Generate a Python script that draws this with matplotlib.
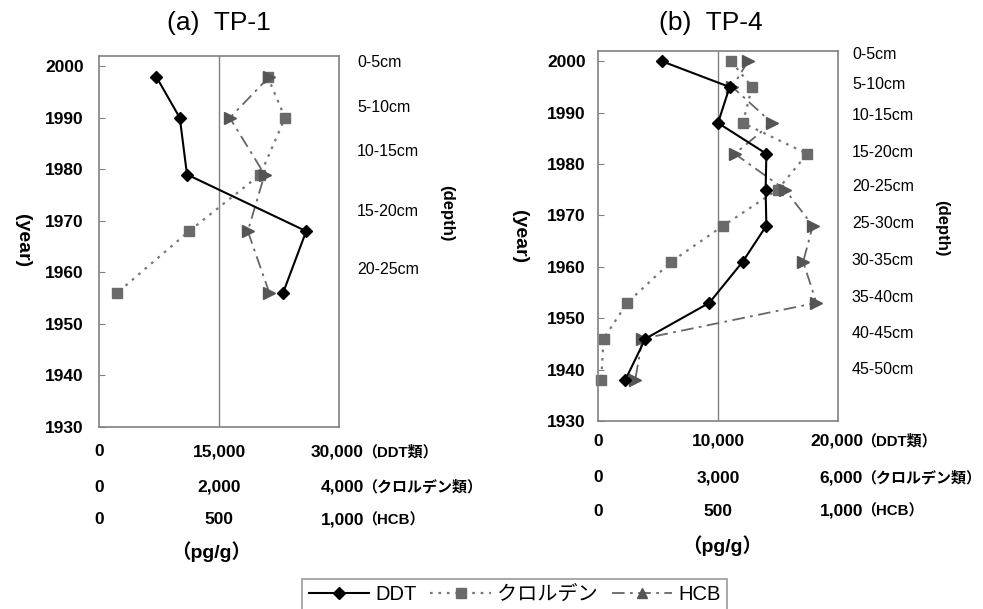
import matplotlib.pyplot as plt
import matplotlib.transforms as mtransforms
from matplotlib.lines import Line2D

# TP-1 data (pg/g)
years_tp1 = [1998, 1990, 1979, 1968, 1956]
ddt_tp1 = [7150, 10100, 11000, 25900, 23000]
chl_tp1 = [2810, 3100, 2690, 1500, 300]
hcb_tp1 = [710, 545, 690, 620, 710]
depth_tp1 = ["0-5cm", "5-10cm", "10-15cm", "15-20cm", "20-25cm"]
depth_pos_tp1 = [2000.8, 1992.0, 1983.5, 1971.8, 1960.5]

# TP-4 data (pg/g)
years_tp4 = [2000, 1995, 1988, 1982, 1975, 1968, 1961, 1953, 1946, 1938]
ddt_tp4 = [5330, 10970, 10000, 14030, 13970, 14030, 12060, 9280, 3940, 2280]
chl_tp4 = [3330, 3850, 3620, 5230, 4490, 3130, 1830, 730, 140, 80]
hcb_tp4 = [625, 560, 725, 570, 780, 895, 855, 910, 185, 155]
depth_tp4 = ["0-5cm", "5-10cm", "10-15cm", "15-20cm", "20-25cm",
             "25-30cm", "30-35cm", "35-40cm", "40-45cm", "45-50cm"]
depth_pos_tp4 = [2001.3, 1995.5, 1989.5, 1982.3, 1975.7,
                 1968.5, 1961.3, 1954.1, 1947.1, 1940.0]

year_ticks = [1930, 1940, 1950, 1960, 1970, 1980, 1990, 2000]
units = ["（DDT類）", "（クロルデン類）", "（HCB）"]

FONTS = ["Liberation Sans", "Noto Sans CJK JP"]
plt.rcParams["font.family"] = FONTS

W, H = 983, 609
fig = plt.figure(figsize=(W / 100, H / 100), dpi=100)

GRAY = "#808080"


def fy(px):
    return 1 - px / H


def panel(left, top, bottom, title, title_x, years, ddt, chl, hcb, maxes,
          depth, depth_pos, depth_x, rows, pgg, year_x, depth_lab, ypad):
    rect = [left / W, fy(bottom), 240 / W, (bottom - top) / H]
    ax = fig.add_axes(rect)
    ax_hcb = ax.twiny()
    ax_ddt = ax.twiny()
    axes = [ax_ddt, ax, ax_hcb]

    ax.set_ylim(1930, 2002)
    ax.set_yticks(year_ticks)
    ax.set_yticklabels([str(y) for y in year_ticks], fontweight="bold", fontsize=12.5)
    ax.tick_params(axis="y", direction="in", length=4, pad=ypad, color=GRAY)
    ax.tick_params(axis="x", bottom=False, labelbottom=False)
    for s in ax.spines.values():
        s.set_color(GRAY)
        s.set_linewidth(1.2)
    for a, m in zip(axes, maxes):
        a.set_xlim(0, m)
    for a in (ax_hcb, ax_ddt):
        a.tick_params(axis="x", top=False, labeltop=False)
        for s in a.spines.values():
            s.set_visible(False)

    ax.axvline(maxes[1] / 2, color=GRAY, lw=1)

    ax.plot(chl, years, color="#777777", ls=(0, (1.2, 2.6)), lw=1.6,
            marker="s", ms=7.5, mfc="#6a6a6a", mec="#6a6a6a", clip_on=False)
    ax_hcb.plot(hcb, years, color="#666666", ls=(0, (7, 3, 1.5, 3)), lw=1.3,
                marker=">", ms=8, mfc="#555555", mec="#555555", clip_on=False)
    ax_ddt.plot(ddt, years, color="black", ls="-", lw=1.5,
                marker="D", ms=6, mfc="black", mec="black", clip_on=False)

    fig.text(title_x / W, fy(23), title, fontsize=19, ha="center", va="center")

    # concentration scales below the panel
    for a, m, unit, ry in zip(axes, maxes, units, rows):
        tr = mtransforms.blended_transform_factory(a.transData, fig.transFigure)
        for v in (0, m // 2):
            a.text(v, fy(ry), f"{v:,}", transform=tr, ha="center", va="center",
                   fontsize=12.5, fontweight="bold")
        a.annotate(f"{m:,}", xy=(m, fy(ry)), xycoords=tr, xytext=(18, 0),
                   textcoords="offset points", ha="right", va="center",
                   fontsize=12.5, fontweight="bold")
        a.annotate(unit, xy=(m, fy(ry)), xycoords=tr, xytext=(16.5, 0),
                   textcoords="offset points", ha="left", va="center",
                   fontsize=10.8, fontweight="bold")
    tr = mtransforms.blended_transform_factory(ax.transAxes, fig.transFigure)
    ax.text(pgg[0], fy(pgg[1]), "（pg/g）", transform=tr, ha="center", va="center",
            fontsize=14, fontweight="bold")

    tr = mtransforms.blended_transform_factory(ax.transAxes, ax.transData)
    for lab, p in zip(depth, depth_pos):
        ax.text(depth_x, p, lab, transform=tr, ha="left", va="center", fontsize=11.5)

    fig.text(year_x[0] / W, fy(year_x[1]), "(year)", rotation=270, fontsize=14,
             fontweight="bold", ha="center", va="center")
    fig.text(depth_lab[0] / W, fy(depth_lab[1]), "(depth)", rotation=270, fontsize=12,
             fontweight="bold", ha="center", va="center")
    return ax


panel(99, 56, 427, "(a)  TP-1", 219, years_tp1, ddt_tp1, chl_tp1, hcb_tp1,
      [30000, 4000, 1000], depth_tp1, depth_pos_tp1, 1.075,
      [452, 487, 520], (0.467, 552), (22, 241), (447, 213), 11)
panel(598, 51, 421, "(b)  TP-4", 711, years_tp4, ddt_tp4, chl_tp4, hcb_tp4,
      [20000, 6000, 1000], depth_tp4, depth_pos_tp4, 1.058,
      [441, 478, 511], (0.517, 546), (520, 237), (942, 228), 9)

handles = [
    Line2D([], [], color="black", lw=1.5, marker="D", ms=6),
    Line2D([], [], color="#777777", ls=(0, (1.2, 2.6)), lw=1.6, marker="s", ms=7.5,
           mfc="#6a6a6a", mec="#6a6a6a"),
    Line2D([], [], color="#666666", ls=(0, (7, 3, 1.5, 3)), lw=1.3, marker="^", ms=7,
           mfc="#555555", mec="#555555"),
]
leg = fig.legend(handles, ["DDT", "クロルデン", "HCB"], loc="upper center",
                 bbox_to_anchor=(514.5 / W, fy(579)), ncol=3, fontsize=14.5,
                 frameon=True, fancybox=False, edgecolor=GRAY, handlelength=3.0,
                 handletextpad=0.3, columnspacing=0.7, borderpad=0.3,
                 borderaxespad=0)
leg.get_frame().set_linewidth(1.2)

fig.savefig("out.png", dpi=100)
